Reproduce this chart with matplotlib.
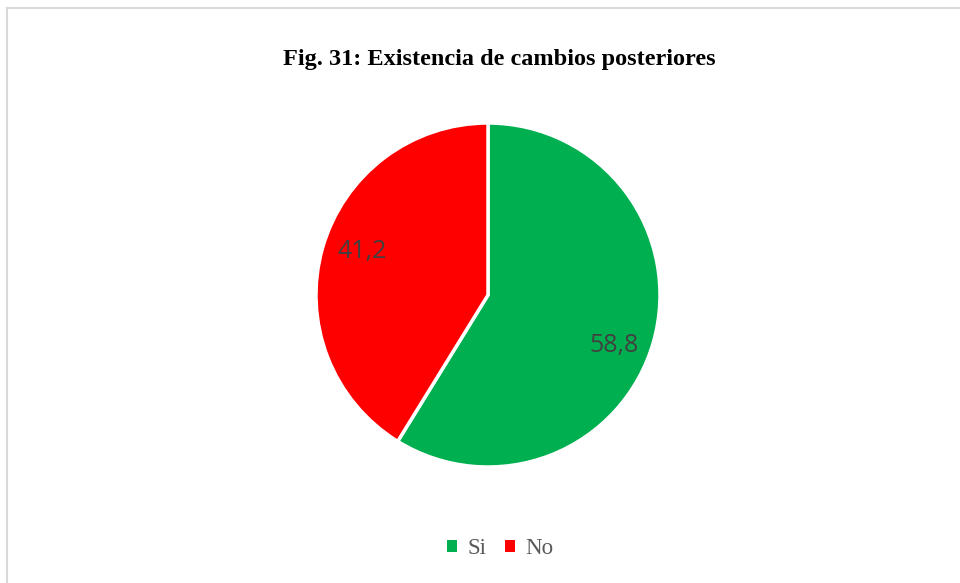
import matplotlib
matplotlib.use("Agg")
import matplotlib.pyplot as plt
from matplotlib.patches import Rectangle
from matplotlib.lines import Line2D
import numpy as np

categories = ["Si", "No"]
values = [58.8, 41.2]
labels_txt = ["58,8", "41,2"]
colors = ["#00B050", "#FF0000"]
title = "Fig. 31: Existencia de cambios posteriores"

W, H = 960, 583
fig = plt.figure(figsize=(W / 100, H / 100), dpi=100)
fig.patch.set_facecolor("white")

# border (extends past right/bottom edge)
fig.add_artist(Line2D([6.5 / W, 6.5 / W], [0, 1 - 7.5 / H], transform=fig.transFigure,
                      color="#D9D9D9", lw=1.5))
fig.add_artist(Line2D([6.5 / W, 1], [1 - 7.5 / H, 1 - 7.5 / H], transform=fig.transFigure,
                      color="#D9D9D9", lw=1.5))

cx, cy, r = 488, 295, 172
ax = fig.add_axes([(cx - r) / W, (H - cy - r) / H, 2 * r / W, 2 * r / H])
wedges, texts = ax.pie(values, colors=colors, startangle=90, counterclock=False,
                       radius=1, wedgeprops=dict(edgecolor="white", linewidth=2.5))
ax.set_xlim(-1, 1)
ax.set_ylim(-1, 1)
ax.set_aspect("equal")
ax.axis("off")

for w, lab, ang_off, d in zip(wedges, labels_txt, [-6, -3], [0.79, 0.775]):
    ang = np.deg2rad((w.theta1 + w.theta2) / 2 + ang_off)
    ax.text(d * np.cos(ang), d * np.sin(ang), lab, ha="center", va="center",
            fontsize=18, color="#404040", family="Open Sans")

fig.text(499 / W, 1 - 60 / H, title, ha="center", va="center", fontsize=17.5,
         fontweight="bold", family="Liberation Serif", color="black")

handles = [Rectangle((0, 0), 1, 1, facecolor=c, edgecolor="none") for c in colors]
leg = fig.legend(handles, categories, loc="center", bbox_to_anchor=(cx / W + 12 / W, 1 - 549 / H),
                 ncol=2, frameon=False, handlelength=0.45, handleheight=0.45,
                 handletextpad=0.45, columnspacing=0.8,
                 prop={"family": "Liberation Serif", "size": 16.5})
for t in leg.get_texts():
    t.set_color("#595959")

fig.savefig("out.png", dpi=100, facecolor="white")
